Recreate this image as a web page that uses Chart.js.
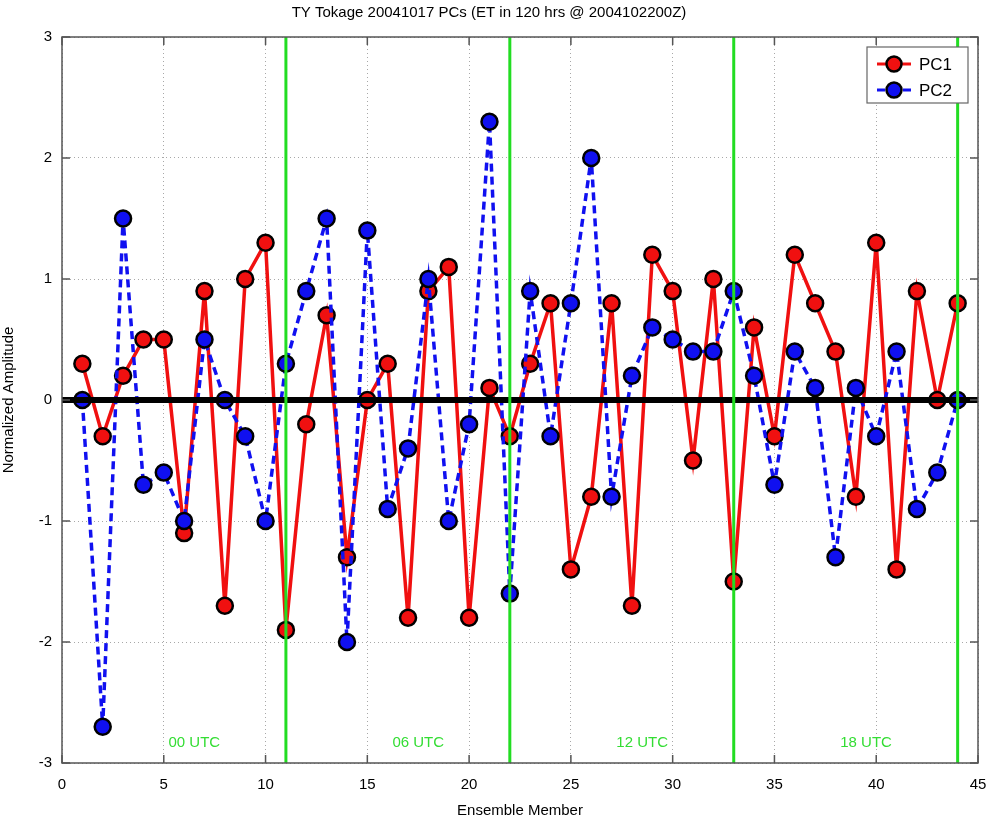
<!DOCTYPE html>
<html>
<head>
<meta charset="utf-8">
<script src="https://cdn.jsdelivr.net/npm/chart.js@4/dist/chart.umd.min.js"></script>
<style>
  html, body { margin: 0; padding: 0; background: #fff; }
  #wrap { width: 990px; height: 820px; }
</style>
</head>
<body>
<div id="wrap"><canvas id="pcChart" width="990" height="820"></canvas></div>
<script>
// === DATA ===
const members = [1, 2, 3, 4, 5, 6, 7, 8, 9, 10, 11, 12, 13, 14, 15, 16, 17, 18, 19, 20, 21, 22,
                 23, 24, 25, 26, 27, 28, 29, 30, 31, 32, 33, 34, 35, 36, 37, 38, 39, 40, 41, 42, 43, 44];
const pc1 = [0.3, -0.3, 0.2, 0.5, 0.5, -1.1, 0.9, -1.7, 1.0, 1.3, -1.9, -0.2, 0.7, -1.3, 0.0, 0.3,
             -1.8, 0.9, 1.1, -1.8, 0.1, -0.3, 0.3, 0.8, -1.4, -0.8, 0.8, -1.7, 1.2, 0.9, -0.5, 1.0,
             -1.5, 0.6, -0.3, 1.2, 0.8, 0.4, -0.8, 1.3, -1.4, 0.9, 0.0, 0.8];
const pc2 = [0.0, -2.7, 1.5, -0.7, -0.6, -1.0, 0.5, 0.0, -0.3, -1.0, 0.3, 0.9, 1.5, -2.0, 1.4, -0.9,
             -0.4, 1.0, -1.0, -0.2, 2.3, -1.6, 0.9, -0.3, 0.8, 2.0, -0.8, 0.2, 0.6, 0.5, 0.4, 0.4,
             0.9, 0.2, -0.7, 0.4, 0.1, -1.3, 0.1, -0.3, 0.4, -0.9, -0.6, 0.0];
const cycleBounds = [11, 22, 33, 44];          // green separators
const cycleLabels = ['00 UTC', '06 UTC', '12 UTC', '18 UTC'];
const cycleLabelX = [6.5, 17.5, 28.5, 39.5];
const xTicks = [0, 5, 10, 15, 20, 25, 30, 35, 40, 45];
const yTicks = [-3, -2, -1, 0, 1, 2, 3];

const FONT = '"Liberation Sans", Arial, sans-serif';

// build line datasets from the arrays
function toPoints(xs, ys) {
    return xs.map((x, i) => ({ x: x, y: ys[i] }));
}

const datasets = [
    {
        label: 'PC1',
        data: toPoints(members, pc1),
        borderColor: '#f01010',
        backgroundColor: '#f01010',
        borderWidth: 3.5,
        pointRadius: 8,
        pointBorderWidth: 2.5,
        pointBorderColor: '#000',
        pointBackgroundColor: '#f01010',
        order: 3
    },
    {
        label: 'PC2',
        data: toPoints(members, pc2),
        borderColor: '#1010f0',
        backgroundColor: '#1010f0',
        borderWidth: 3.5,
        borderDash: [8, 5],
        pointRadius: 8,
        pointBorderWidth: 2.5,
        pointBorderColor: '#000',
        pointBackgroundColor: '#1010f0',
        order: 2
    },
    {
        label: 'zero',
        helper: true,
        data: [{ x: xTicks[0], y: 0 }, { x: xTicks[xTicks.length - 1], y: 0 }],
        borderColor: '#000',
        borderWidth: 6,
        pointRadius: 0,
        order: 1
    }
];

cycleBounds.forEach(function(b) {
    datasets.push({
        label: 'cycle' + b,
        helper: true,
        data: [{ x: b, y: yTicks[0] }, { x: b, y: yTicks[yTicks.length - 1] }],
        borderColor: '#22dd22',
        borderWidth: 3,
        pointRadius: 0,
        order: 0
    });
});

// frame, inward ticks, UTC labels and legend box (matlab style)
const decorPlugin = {
    id: 'decor',
    afterDatasetsDraw(chart) {
        const { ctx, chartArea: a, scales } = chart;
        ctx.save();

        // UTC labels
        ctx.fillStyle = '#33dd33';
        ctx.font = '15px ' + FONT;
        ctx.textAlign = 'center';
        ctx.textBaseline = 'middle';
        cycleLabels.forEach(function(t, i) {
            ctx.fillText(t, scales.x.getPixelForValue(cycleLabelX[i]), scales.y.getPixelForValue(-2.83));
        });

        // frame
        ctx.strokeStyle = '#555';
        ctx.lineWidth = 1.5;
        ctx.setLineDash([]);
        ctx.strokeRect(a.left, a.top, a.right - a.left, a.bottom - a.top);

        // inward ticks
        ctx.beginPath();
        xTicks.forEach(function(v) {
            const px = scales.x.getPixelForValue(v);
            ctx.moveTo(px, a.bottom); ctx.lineTo(px, a.bottom - 8);
            ctx.moveTo(px, a.top); ctx.lineTo(px, a.top + 8);
        });
        yTicks.forEach(function(v) {
            const py = scales.y.getPixelForValue(v);
            ctx.moveTo(a.left, py); ctx.lineTo(a.left + 8, py);
            ctx.moveTo(a.right, py); ctx.lineTo(a.right - 8, py);
        });
        ctx.stroke();

        // legend
        const lx = a.right - 111, ly = a.top + 10, lw = 101, lh = 56;
        ctx.fillStyle = '#fff';
        ctx.fillRect(lx, ly, lw, lh);
        ctx.strokeStyle = '#666';
        ctx.lineWidth = 1.2;
        ctx.strokeRect(lx, ly, lw, lh);
        chart.data.datasets.filter(d => !d.helper).forEach(function(d, i) {
            const cy = ly + 17 + i * 26;
            ctx.strokeStyle = d.borderColor;
            ctx.lineWidth = 3;
            ctx.setLineDash(d.borderDash || []);
            ctx.beginPath();
            ctx.moveTo(lx + 10, cy); ctx.lineTo(lx + 44, cy);
            ctx.stroke();
            ctx.setLineDash([]);
            ctx.beginPath();
            ctx.arc(lx + 27, cy, 7.5, 0, Math.PI * 2);
            ctx.fillStyle = d.pointBackgroundColor;
            ctx.fill();
            ctx.lineWidth = 2.5;
            ctx.strokeStyle = '#000';
            ctx.stroke();
            ctx.fillStyle = '#000';
            ctx.font = '17px ' + FONT;
            ctx.textAlign = 'left';
            ctx.textBaseline = 'middle';
            ctx.fillText(d.label, lx + 52, cy + 1);
        });

        ctx.restore();
    }
};

document.addEventListener('DOMContentLoaded', function() {
    const ctx = document.getElementById('pcChart');

    new Chart(ctx.getContext('2d'), {
        type: 'line',
        data: { datasets: datasets },
        options: {
            responsive: false,
            animation: false,
            layout: { padding: { left: 0, right: 12, top: 0, bottom: 0 } },
            plugins: {
                legend: { display: false },
                tooltip: { enabled: false },
                title: {
                    display: true,
                    text: 'TY Tokage 20041017 PCs (ET in 120 hrs @ 2004102200Z)',
                    color: '#000',
                    font: { family: FONT, size: 15, weight: 'normal' },
                    padding: { top: 4, bottom: 15 }
                }
            },
            scales: {
                x: {
                    type: 'linear',
                    min: xTicks[0],
                    max: xTicks[xTicks.length - 1],
                    afterBuildTicks: function(scale) {
                        scale.ticks = xTicks.map(v => ({ value: v }));
                    },
                    afterFit: function(scale) {
                        scale.height = 57;
                        scale.paddingLeft = 0;
                        scale.paddingRight = 0;
                    },
                    ticks: {
                        color: '#000',
                        font: { family: FONT, size: 15 },
                        padding: 13,
                        maxRotation: 0
                    },
                    grid: { color: '#a8a8a8', lineWidth: 1, drawTicks: false },
                    border: { display: false, dash: [1, 3] },
                    title: {
                        display: true,
                        text: 'Ensemble Member',
                        color: '#000',
                        font: { family: FONT, size: 15 },
                        padding: { top: 2, bottom: 0 }
                    }
                },
                y: {
                    type: 'linear',
                    min: yTicks[0],
                    max: yTicks[yTicks.length - 1],
                    afterBuildTicks: function(scale) {
                        scale.ticks = yTicks.map(v => ({ value: v }));
                    },
                    afterFit: function(scale) { scale.width = 62; },
                    ticks: {
                        color: '#000',
                        font: { family: FONT, size: 15 },
                        padding: 10
                    },
                    grid: { color: '#a8a8a8', lineWidth: 1, drawTicks: false },
                    border: { display: false, dash: [1, 3] },
                    title: {
                        display: true,
                        text: 'Normalized Amplitude',
                        color: '#000',
                        font: { family: FONT, size: 15 },
                        padding: { top: 0, bottom: 4 }
                    }
                }
            }
        },
        plugins: [decorPlugin]
    });
});
</script>
</body>
</html>
